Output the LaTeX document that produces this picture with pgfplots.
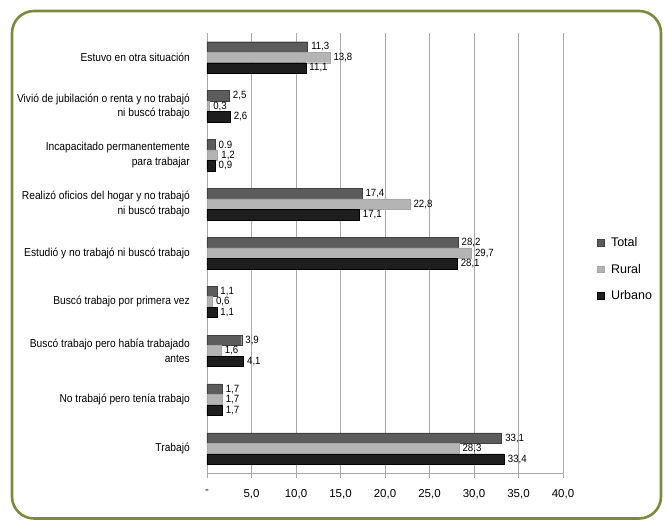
\documentclass[border=0pt]{standalone}
\usepackage{pgfplots}
\pgfplotsset{compat=1.18}
\usepackage{pgfplotstable}
\usepackage{fontspec}
\setmainfont{Liberation Sans}
\newfontfamily\catfont[FakeStretch=0.89]{Liberation Sans}
\newfontfamily\valfont[FakeStretch=0.92]{Liberation Sans}
\definecolor{cTotal}{HTML}{5C5C5C}
\definecolor{cRural}{HTML}{B4B4B4}
\definecolor{cUrbano}{HTML}{1E1E1E}
\definecolor{frame}{HTML}{7B8B3C}
\definecolor{gridc}{HTML}{A8A8A8}

% y = 0 is the bottom category (Trabajó), y = 8 the top one
\pgfplotstableread{
y val lab
8 11.3 11,3
7 2.5 2,5
6 0.9 0.9
5 17.4 17,4
4 28.2 28,2
3 1.1 1,1
2 3.9 3,9
1 1.7 1,7
0 33.1 33,1
}\dtotal
\pgfplotstableread{
y val lab
8 13.8 13,8
7 0.3 0,3
6 1.2 1,2
5 22.8 22,8
4 29.7 29,7
3 0.6 0,6
2 1.6 1,6
1 1.7 1,7
0 28.3 28,3
}\drural
\pgfplotstableread{
y val lab
8 11.1 11,1
7 2.6 2,6
6 0.9 0,9
5 17.1 17,1
4 28.1 28,1
3 1.1 1,1
2 4.1 4,1
1 1.7 1,7
0 33.4 33,4
}\durbano

\begin{document}
\begin{tikzpicture}[x=1pt,y=1pt]
\useasboundingbox (0,0) rectangle (666,520);
\fill[white] (0,0) rectangle (666,520);
\draw[frame, line width=2.6pt, rounded corners=22pt] (12,1.5) rectangle (661,509);
\begin{axis}[
  at={(207pt,47pt)}, anchor=south west,
  scale only axis, width=356pt, height=440pt,
  xbar, bar width=10.5pt,
  xmin=0, xmax=40, ymin=-0.5, ymax=8.5,
  axis x line*=bottom, axis y line*=left,
  axis line style={gridc, line width=0.8pt},
  xtick={0,5,...,40},
  xticklabels={{-},{5,0},{10,0},{15,0},{20,0},{25,0},{30,0},{35,0},{40,0}},
  xmajorgrids, major grid style={gridc, line width=0.8pt},
  tick align=outside,
  major tick length=5pt,
  xtick style={gridc, line width=0.8pt},
  xticklabel style={font=\fontsize{11.5}{13}\selectfont, yshift=-8pt},
  ytick={0,...,8},
  yticklabels={
    {Trabajó},
    {No trabajó pero tenía trabajo},
    {Buscó trabajo pero había trabajado\\antes},
    {Buscó trabajo por primera vez},
    {Estudió y no trabajó ni buscó trabajo},
    {Realizó oficios del hogar y no trabajó\\ni buscó trabajo},
    {Incapacitado permanentemente\\para trabajar},
    {Vivió de jubilación o renta y no trabajó\\ni buscó trabajo},
    {Estuvo en otra situación}},
  ytick style={draw=none},
  minor ytick={-0.5,0.5,...,8.5},
  minor tick length=5pt,
  every minor tick/.style={gridc, line width=0.8pt},
  yticklabel style={align=right, inner sep=0pt, xshift=-12pt,
    font=\catfont\fontsize{11.5}{14.5}\selectfont},
  nodes near coords={\pgfplotspointmeta},
  point meta=explicit symbolic,
  nodes near coords style={anchor=west, inner sep=0pt, xshift=3.5pt,
    font=\valfont\fontsize{10.5}{12}\selectfont, text=black},
  legend cell align=left,
  legend style={at={(1.095,0.463)}, anchor=west, draw=none, fill=none,
    font=\fontsize{12.5}{14}\selectfont, row sep=12pt, inner sep=0pt,
    /tikz/every odd column/.append style={column sep=5pt}},
  legend image code/.code={\fill[#1] (0pt,-3.3pt) rectangle (6.6pt,3.3pt);},
  clip=false,
]
\addplot[fill=cTotal, draw=black!75, line width=0.4pt, bar shift=10.5pt]
  table[x=val, y=y, meta=lab] {\dtotal};
\addplot[fill=cRural, draw=black!35, line width=0.4pt, bar shift=0pt]
  table[x=val, y=y, meta=lab] {\drural};
\addplot[fill=cUrbano, draw=black, line width=0.4pt, bar shift=-10.5pt]
  table[x=val, y=y, meta=lab] {\durbano};
\legend{Total, Rural, Urbano}
\end{axis}
\end{tikzpicture}
\end{document}
